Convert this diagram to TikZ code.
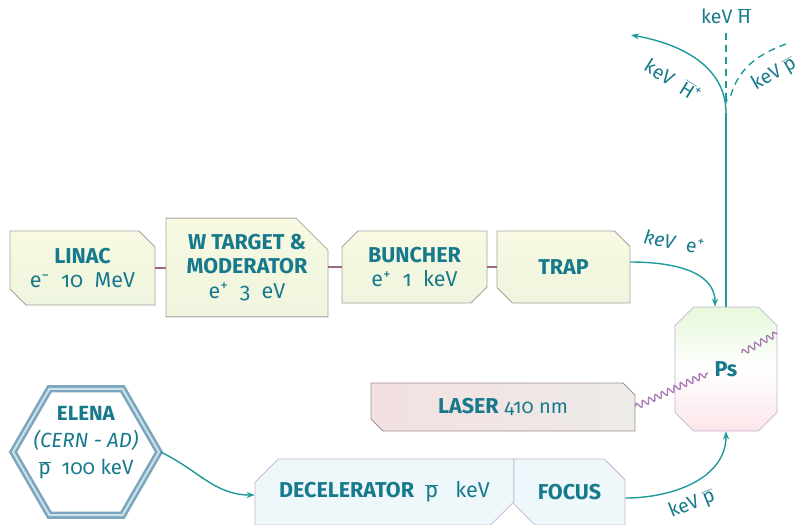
\documentclass[tikz,border=0pt]{standalone}
\usepackage{fontspec}
\setmainfont[Numbers=OldStyle]{Fira Sans}
\usetikzlibrary{arrows.meta,decorations.pathmorphing,shapes.geometric,shapes.misc}
\definecolor{txt}{HTML}{177A8C}
\definecolor{arr}{HTML}{1E9A98}
\definecolor{mauve}{HTML}{9C6A80}
\definecolor{wavec}{HTML}{A77AB5}
\definecolor{boxline}{HTML}{A8A29C}
\definecolor{ytop}{HTML}{F9F9E2}
\definecolor{ybot}{HTML}{EEF5DE}
\definecolor{pstop}{HTML}{E6F8DA}
\definecolor{psbot}{HTML}{FBE6EA}
\definecolor{lasL}{HTML}{F3E0E0}
\definecolor{lasR}{HTML}{EDEBE8}
\definecolor{lasline}{HTML}{A08E92}
\definecolor{decfill}{HTML}{EEF8FB}
\definecolor{decline}{HTML}{C7B3D3}
\definecolor{hexout}{HTML}{7DA6BC}
\definecolor{hexin}{HTML}{C8E2EE}
\newcommand\ob[1]{$\overline{\hbox{#1}}$}
\begin{document}
\begin{tikzpicture}[x=1pt,y=-1pt,
  font=\fontsize{21.5}{24.5}\selectfont, text=txt,
  cbox/.style={chamfered rectangle, inner sep=0pt, align=center,
    draw=boxline, line width=0.8pt, top color=ytop, bottom color=ybot,
    chamfered rectangle xsep=8pt, chamfered rectangle ysep=8pt},
  link/.style={draw=mauve, line width=1.6pt},
  beam/.style={draw=arr, line width=1.4pt},
  tip/.style={-{Stealth[length=8pt,width=6pt]}},
  photon/.style={draw=wavec, line width=1.3pt, decorate,
    decoration={snake, segment length=7pt, amplitude=3pt}},
  lbl/.style={text=txt, inner sep=1pt, font=\fontsize{19.5}{22}\selectfont}
]
\useasboundingbox (0,0) rectangle (802,524);

% upper chain
\node[cbox, chamfered rectangle corners={north east, south west},
  minimum width=145, minimum height=74] (linac) at (82.5,268)
  {\textbf{LINAC}\\e\textsuperscript{−}~~10~~MeV};
\node[cbox, chamfered rectangle corners={north east},
  chamfered rectangle xsep=16pt, chamfered rectangle ysep=16pt,
  minimum width=162, minimum height=91] (wt) at (247,267.5)
  {\textbf{W~TARGET \&}\\\textbf{MODERATOR}\\e\textsuperscript{+}~~3~~eV};
\node[cbox, chamfered rectangle corners={north west, south east},
  minimum width=145, minimum height=72] (bun) at (414.5,267)
  {\textbf{BUNCHER}\\e\textsuperscript{+}~~1~~keV};
\node[cbox, chamfered rectangle corners={south west, north east},
  minimum width=133, minimum height=72] (trap) at (563.5,267)
  {\textbf{TRAP}};

\draw[link] (linac.east) -- (wt.west |- linac.east);
\draw[link] (wt.east |- bun.west) -- (bun.west);
\draw[link] (bun.east) -- (trap.west);

% Ps box
\node[chamfered rectangle,
  chamfered rectangle corners={north east, north west, south east, south west},
  chamfered rectangle xsep=11pt, chamfered rectangle ysep=11pt,
  inner sep=0pt, minimum width=102, minimum height=124,
  draw=decline, line width=0.8pt, top color=pstop, bottom color=psbot, middle color=white,
  font=\fontsize{21.5}{24}\selectfont\bfseries]
  (ps) at (726,369) {Ps};

% laser
\node[chamfered rectangle, chamfered rectangle corners={south west, north east},
  chamfered rectangle xsep=6pt, chamfered rectangle ysep=6pt,
  inner sep=0pt, minimum width=264, minimum height=48,
  draw=lasline, line width=0.8pt, left color=lasL, right color=lasR]
  (laser) at (503,407) {\textbf{LASER}~{\fontsize{20}{22}\selectfont 410 nm}};

% decelerator / focus
\node[chamfered rectangle, chamfered rectangle corners={north west, south east},
  chamfered rectangle xsep=13pt, chamfered rectangle ysep=13pt,
  inner sep=0pt, minimum width=259, minimum height=66,
  draw=decline, line width=0.8pt, fill=decfill]
  (dec) at (384.5,492) {\textbf{DECELERATOR}~~\ob{p}~~~keV};
\node[chamfered rectangle, chamfered rectangle corners={north east, south west},
  chamfered rectangle xsep=13pt, chamfered rectangle ysep=13pt,
  inner sep=0pt, minimum width=111, minimum height=66,
  draw=decline, line width=0.8pt, fill=decfill]
  (foc) at (569.5,492) {\textbf{FOCUS}};

% ELENA hexagon
\node[regular polygon, regular polygon sides=6,
  minimum size=146, inner sep=0pt, fill=white,
  draw=hexout, line width=2.6pt, double=hexin, double distance=2pt]
  (elena) at (86,452) {};
\node[align=center, inner sep=0pt, font=\fontsize{20.5}{27}\selectfont]
  (elenatxt) at ([yshift=9pt]elena.center)
  {\textbf{ELENA}\\\textit{(CERN - AD)}\\\ob{p}~~100 keV};

% beams
\draw[beam, tip] (elena.east) to[out=-25, in=180] ([yshift=-3pt]dec.west);
\draw[beam, tip] ([yshift=-6pt]foc.east) to[out=0, in=-90] (ps.south);
\node[lbl, rotate=22] (lp1) at (692,504) {keV \ob{p}};

\draw[beam, tip] ([yshift=5pt]trap.east) to[out=0, in=90] ([xshift=-11pt]ps.north);
\node[lbl, rotate=-10] (le) at (674,242) {\textit{keV}~~e\textsuperscript{+}};

\coordinate (jn) at (726,113);
\draw[beam] (ps.north) -- (jn);
\coordinate (hl) at (631,35);
\draw[beam, tip] (jn) to[out=90, in=-10] (hl);
\node[lbl, rotate=-32] (lhp) at (673,80) {keV~~\ob{H}\textsuperscript{+}};

\coordinate (htop) at (726,33);
\coordinate (hbot) at (726,104);
\draw[beam, dash pattern=on 7pt off 5pt, -{Stealth[length=5pt,width=4pt]}] (htop) -- (hbot);
\node[lbl] (lh) at (726,16) {keV \ob{H}};

\coordinate (ptop) at (786,44);
\coordinate (pbot) at (730,98);
\draw[beam, dash pattern=on 7pt off 5pt] (ptop) to[out=200, in=75] (pbot);
\node[lbl, rotate=30] (lp2) at (774,74) {keV \ob{p}};

% photon
\draw[photon] (laser.east) -- (708,373);
\draw[photon] (742,353) -- ([yshift=36pt]ps.east);
\end{tikzpicture}
\end{document}
